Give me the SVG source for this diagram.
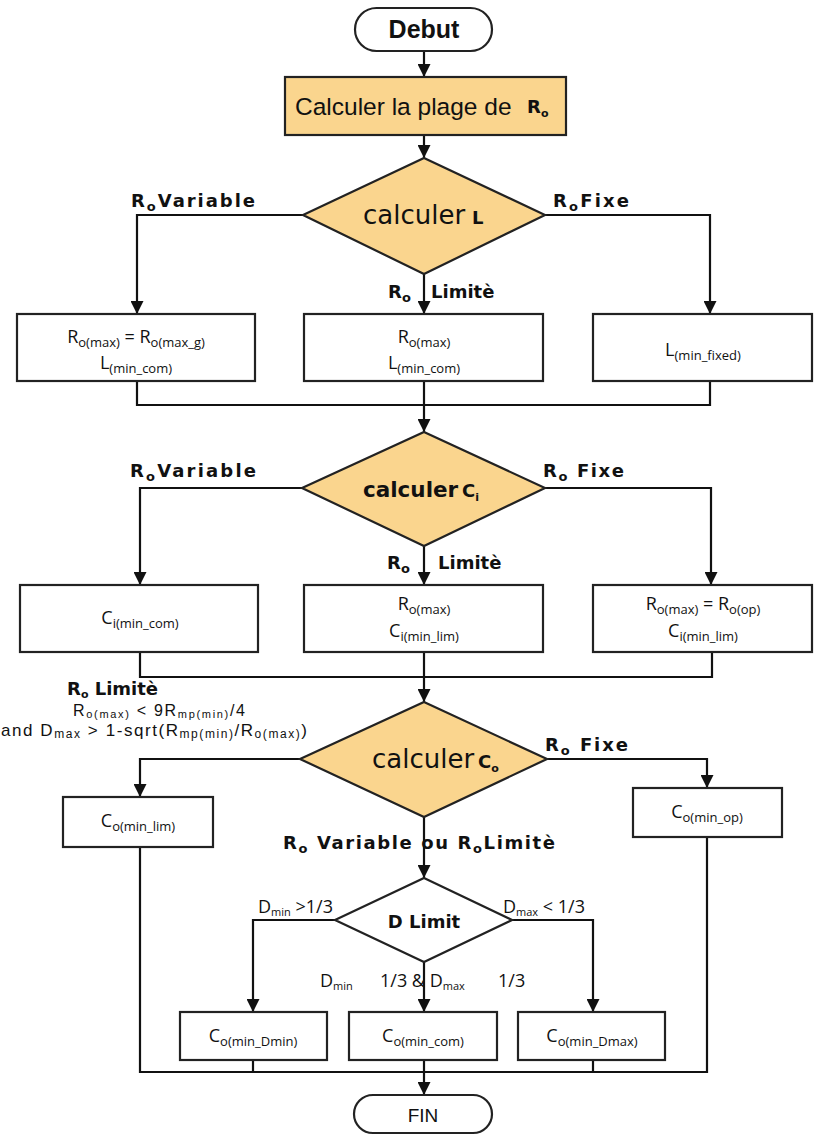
<svg xmlns="http://www.w3.org/2000/svg" width="821" height="1135" viewBox="0 0 821 1135">
<style>
.term{fill:#fff;stroke:#222;stroke-width:2.2}
.proc{fill:#fff;stroke:#222;stroke-width:2.2}
.hl{fill:#FAD58E;stroke:#222;stroke-width:2.2}
.dec{fill:#FAD58E;stroke:#222;stroke-width:2.2}
.decw{fill:#fff;stroke:#222;stroke-width:2.2}
.c{fill:none;stroke:#111;stroke-width:2.2}
.lbl{font-family:"DejaVu Sans",sans-serif;font-weight:bold;font-size:18px;fill:#111}
.bx{font-family:"Open Sans","Liberation Sans",sans-serif;font-size:18px;fill:#111}
.cond{font-family:"Liberation Sans",Arial,sans-serif;fill:#111}
.s{font-size:13px}
.ss{font-size:11px}
.tt{font-family:"Liberation Sans",Arial,sans-serif;font-weight:bold;font-size:25px;fill:#111}
.dt{font-family:"DejaVu Sans",sans-serif;font-size:26px;fill:#111}
</style>
<defs>
<marker id="ah" markerWidth="13" markerHeight="13" refX="13" refY="6.5" orient="auto" markerUnits="userSpaceOnUse">
<path d="M0,0 L13,6.5 L0,13 z" fill="#111"/>
</marker>
</defs>

<g id="connectors">
<path class="c" d="M424,52 V77" marker-end="url(#ah)"/>
<path class="c" d="M424,135 V158" marker-end="url(#ah)"/>
<path class="c" d="M303,215 H137 V314" marker-end="url(#ah)"/>
<path class="c" d="M545,215 H710 V314" marker-end="url(#ah)"/>
<path class="c" d="M424,274 V314" marker-end="url(#ah)"/>
<path class="c" d="M137,381 V405 H710 V381"/>
<path class="c" d="M424,381 V432" marker-end="url(#ah)"/>
<path class="c" d="M302,488 H140 V585" marker-end="url(#ah)"/>
<path class="c" d="M545,488 H711 V585" marker-end="url(#ah)"/>
<path class="c" d="M424,546 V585" marker-end="url(#ah)"/>
<path class="c" d="M140,652 V677 H712 V652"/>
<path class="c" d="M424,652 V702" marker-end="url(#ah)"/>
<path class="c" d="M300,759 H140 V797" marker-end="url(#ah)"/>
<path class="c" d="M547,759 H707 V788" marker-end="url(#ah)"/>
<path class="c" d="M424,817 V878" marker-end="url(#ah)"/>
<path class="c" d="M335,920 H253 V1012" marker-end="url(#ah)"/>
<path class="c" d="M512,920 H593 V1012" marker-end="url(#ah)"/>
<path class="c" d="M424,962 V1012" marker-end="url(#ah)"/>
<path class="c" d="M140,847 V1072 H707 V837"/>
<path class="c" d="M253,1060 V1072 M593,1060 V1072"/>
<path class="c" d="M424,1060 V1095" marker-end="url(#ah)"/>

<text class="lbl" x="131" y="207" textLength="124" lengthAdjust="spacing">R<tspan class="s" dy="4">o</tspan><tspan dy="-4">Variable</tspan></text>
<text class="lbl" x="553" y="207" textLength="76" lengthAdjust="spacing">R<tspan class="s" dy="4">o</tspan><tspan dy="-4">Fixe</tspan></text>
<text class="lbl" x="388" y="298">R<tspan class="s" dy="4">o</tspan></text>
<text class="lbl" x="431" y="298">Limitè</text>

<text class="lbl" x="130" y="477" textLength="126" lengthAdjust="spacing">R<tspan class="s" dy="4">o</tspan><tspan dy="-4">Variable</tspan></text>
<text class="lbl" x="543" y="477" textLength="81" lengthAdjust="spacing">R<tspan class="s" dy="4">o</tspan><tspan dy="-4"> Fixe</tspan></text>
<text class="lbl" x="387" y="569">R<tspan class="s" dy="4">o</tspan></text>
<text class="lbl" x="438" y="569">Limitè</text>

<text class="lbl" x="67" y="695" font-size="16">R<tspan class="ss" dy="3">o</tspan><tspan dy="-3"> Limitè</tspan></text>
<text class="cond" x="73" y="716" font-size="16" textLength="172" lengthAdjust="spacing">R<tspan class="ss" dy="2">o(max)</tspan><tspan dy="-2"> &lt; 9R</tspan><tspan class="ss" dy="2">mp(min)</tspan><tspan dy="-2">/4</tspan></text>
<text class="cond" x="1" y="736" font-size="17" textLength="306" lengthAdjust="spacing">and D<tspan font-size="12" dy="1.5">max</tspan><tspan dy="-1.5"> &gt; 1-sqrt(R</tspan><tspan font-size="12" dy="1.5">mp(min)</tspan><tspan dy="-1.5">/R</tspan><tspan font-size="12" dy="1.5">o(max)</tspan><tspan dy="-1.5">)</tspan></text>
<text class="lbl" x="545" y="751" textLength="83" lengthAdjust="spacing">R<tspan class="s" dy="4">o</tspan><tspan dy="-4"> Fixe</tspan></text>
<text class="lbl" x="283" y="849" font-size="17" textLength="272" lengthAdjust="spacing">R<tspan class="s" dy="4">o</tspan><tspan dy="-4"> Variable ou  R</tspan><tspan class="s" dy="4">o</tspan><tspan dy="-4">Limitè</tspan></text>

<text class="bx" x="258" y="913" font-size="17">D<tspan class="ss" dy="3">min</tspan><tspan dy="-3"> &gt;1/3</tspan></text>
<text class="bx" x="503" y="913" font-size="17">D<tspan class="ss" dy="3">max</tspan><tspan dy="-3"> &lt; 1/3</tspan></text>
<text class="bx" x="320" y="987" font-size="17">D<tspan class="ss" dy="3">min</tspan></text>
<text class="bx" x="380" y="987" font-size="17">1/3 &amp; D<tspan class="ss" dy="3">max</tspan></text>
<text class="bx" x="498" y="987" font-size="17">1/3</text>
</g>

<g id="debut">
<rect class="term" x="355" y="8" width="137" height="43" rx="21.5"/>
<text class="tt" x="424" y="38" text-anchor="middle">Debut</text>
</g>

<g id="plage">
<rect class="hl" x="285" y="77" width="281" height="58"/>
<text x="295" y="115" font-family="Liberation Sans, Arial, sans-serif" font-size="24.5" fill="#111">Calculer la plage de</text>
<text class="lbl" x="527" y="113" font-size="16">R<tspan class="ss" dy="4">o</tspan></text>
</g>

<g id="calcL">
<polygon class="dec" points="424,158 545,215 424,274 303,215"/>
<text class="dt" x="363" y="224">calculer</text>
<text class="lbl" x="472" y="224" font-size="15">L</text>
</g>

<g id="boxA">
<rect class="proc" x="17" y="314" width="238" height="67"/>
<text class="bx" x="136" y="343" text-anchor="middle">R<tspan class="s" dy="4">o(max)</tspan><tspan dy="-4"> = R</tspan><tspan class="s" dy="4">o(max_g)</tspan></text>
<text class="bx" x="136" y="369" text-anchor="middle">L<tspan class="s" dy="4">(min_com)</tspan></text>
</g>

<g id="boxB">
<rect class="proc" x="304" y="314" width="239" height="67"/>
<text class="bx" x="424" y="343" text-anchor="middle">R<tspan class="s" dy="4">o(max)</tspan></text>
<text class="bx" x="424" y="369" text-anchor="middle">L<tspan class="s" dy="4">(min_com)</tspan></text>
</g>

<g id="boxC">
<rect class="proc" x="593" y="314" width="219" height="67"/>
<text class="bx" x="703" y="356" text-anchor="middle">L<tspan class="s" dy="4">(min_fixed)</tspan></text>
</g>

<g id="calcCi">
<polygon class="dec" points="424,432 545,488 424,546 302,488"/>
<text x="363" y="497" font-family="DejaVu Sans, sans-serif" font-weight="bold" font-size="21.5" fill="#111">calculer</text>
<text class="lbl" x="462" y="497" font-size="19">C<tspan class="ss" dy="4">i</tspan></text>
</g>

<g id="boxD">
<rect class="proc" x="20" y="585" width="238" height="67"/>
<text class="bx" x="140" y="624" text-anchor="middle">C<tspan class="s" dy="4">i(min_com)</tspan></text>
</g>

<g id="boxE">
<rect class="proc" x="304" y="585" width="239" height="67"/>
<text class="bx" x="424" y="610" text-anchor="middle">R<tspan class="s" dy="4">o(max)</tspan></text>
<text class="bx" x="424" y="637" text-anchor="middle">C<tspan class="s" dy="4">i(min_lim)</tspan></text>
</g>

<g id="boxF">
<rect class="proc" x="593" y="585" width="219" height="67"/>
<text class="bx" x="703" y="610" text-anchor="middle">R<tspan class="s" dy="4">o(max)</tspan><tspan dy="-4"> = R</tspan><tspan class="s" dy="4">o(op)</tspan></text>
<text class="bx" x="703" y="637" text-anchor="middle">C<tspan class="s" dy="4">i(min_lim)</tspan></text>
</g>

<g id="calcCo">
<polygon class="dec" points="424,702 547,759 424,817 300,759"/>
<text class="dt" x="372" y="768" font-size="25">calculer</text>
<text class="lbl" x="478" y="768" font-size="19">C<tspan class="ss" dy="4">o</tspan></text>
</g>

<g id="boxG">
<rect class="proc" x="63" y="797" width="150" height="50"/>
<text class="bx" x="138" y="827" text-anchor="middle" font-size="17">C<tspan class="s" dy="4">o(min_lim)</tspan></text>
</g>

<g id="boxH">
<rect class="proc" x="633" y="788" width="149" height="49"/>
<text class="bx" x="707" y="818" text-anchor="middle" font-size="17">C<tspan class="s" dy="4">o(min_op)</tspan></text>
</g>

<g id="dlimit">
<polygon class="decw" points="424,878 512,920 424,962 335,920"/>
<text class="lbl" x="424" y="928" text-anchor="middle" font-size="18">D Limit</text>
</g>

<g id="boxI">
<rect class="proc" x="180" y="1012" width="147" height="48"/>
<text class="bx" x="253" y="1042" text-anchor="middle" font-size="17">C<tspan class="s" dy="4">o(min_Dmin)</tspan></text>
</g>

<g id="boxJ">
<rect class="proc" x="349" y="1012" width="148" height="48"/>
<text class="bx" x="423" y="1042" text-anchor="middle" font-size="17">C<tspan class="s" dy="4">o(min_com)</tspan></text>
</g>

<g id="boxK">
<rect class="proc" x="518" y="1012" width="147" height="48"/>
<text class="bx" x="592" y="1042" text-anchor="middle" font-size="17">C<tspan class="s" dy="4">o(min_Dmax)</tspan></text>
</g>

<g id="fin">
<rect class="term" x="354" y="1095" width="138" height="38" rx="19"/>
<text x="423" y="1122" text-anchor="middle" font-family="Liberation Sans, Arial, sans-serif" font-size="19" fill="#111">FIN</text>
</g>
</svg>
